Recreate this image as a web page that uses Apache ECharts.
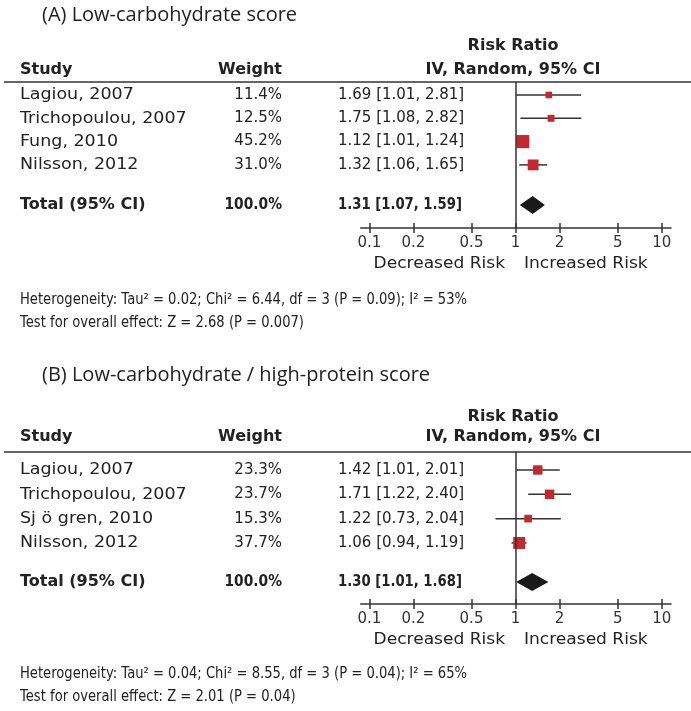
<!DOCTYPE html>
<html><head><meta charset="utf-8">
<script src="https://cdn.jsdelivr.net/npm/echarts@6/dist/echarts.min.js"></script>
<style>html,body{margin:0;padding:0;background:#fff}#c{width:691px;height:711px}</style>
</head><body><div id="c"></div>
<script>
// ---------- data ----------
const titleA = "(A) Low-carbohydrate score";
const studiesA = ["Lagiou, 2007", "Trichopoulou, 2007", "Fung, 2010", "Nilsson, 2012"];
const weightsA = [11.4, 12.5, 45.2, 31.0];
const rrA = [1.69, 1.75, 1.12, 1.32];
const loA = [1.01, 1.08, 1.01, 1.06];
const hiA = [2.81, 2.82, 1.24, 1.65];
const totalA = [1.31, 1.07, 1.59];
const hetA = "Heterogeneity: Tau² = 0.02; Chi² = 6.44, df = 3 (P = 0.09); I² = 53%";
const testA = "Test for overall effect: Z = 2.68 (P = 0.007)";

const titleB = "(B) Low-carbohydrate / high-protein score";
const studiesB = ["Lagiou, 2007", "Trichopoulou, 2007", "Sj ö gren, 2010", "Nilsson, 2012"];
const weightsB = [23.3, 23.7, 15.3, 37.7];
const rrB = [1.42, 1.71, 1.22, 1.06];
const loB = [1.01, 1.22, 0.73, 0.94];
const hiB = [2.01, 2.40, 2.04, 1.19];
const totalB = [1.30, 1.01, 1.68];
const hetB = "Heterogeneity: Tau² = 0.04; Chi² = 8.55, df = 3 (P = 0.04); I² = 65%";
const testB = "Test for overall effect: Z = 2.01 (P = 0.04)";

const tickValues = [0.1, 0.2, 0.5, 1, 2, 5, 10];
const colHeaders = ["Study", "Weight", "Risk Ratio", "IV, Random, 95% CI"];
const sideLabels = ["Decreased Risk", "Increased Risk"];
const totalLabel = ["Total (95% CI)", "100.0%"];

// ---------- layout ----------
const FONT = "DejaVu Sans";
const TXT = "#222";
const RED = "#c3282e";
const panels = [
  { title: titleA, studies: studiesA, w: weightsA, rr: rrA, lo: loA, hi: hiA, total: totalA, het: hetA, test: testA,
    top: 82, height: 146, ymin: -0.558, ymax: 5.708, totalPos: 4.72, titleY: 15, rrY: 46, hdrY: 70, sideY: 264, hetY: 300, testY: 323 },
  { title: titleB, studies: studiesB, w: weightsB, rr: rrB, lo: loB, hi: hiB, total: totalB, het: hetB, test: testB,
    top: 452, height: 152, ymin: -0.74, ymax: 5.51, totalPos: 4.61, titleY: 375, rrY: 417, hdrY: 437, sideY: 640, hetY: 674, testY: 697 }
];
const XMIN = 0.0873, XMAX = 11.58;
const fmt2 = v => v.toFixed(2);
const ciText = (r, l, h) => fmt2(r) + " [" + fmt2(l) + ", " + fmt2(h) + "]";

const chart = echarts.init(document.getElementById('c'), null, { renderer: 'canvas' });

const grids = [], xAxes = [], yAxes = [], series = [];
panels.forEach((p, i) => {
  grids.push({ left: 360.7, right: 20, top: p.top, height: p.height, containLabel: false });
  const base = {
    type: 'log', logBase: 10, gridIndex: i, min: XMIN, max: XMAX, position: 'bottom',
    splitLine: { show: false }, minorTick: { show: false }
  };
  xAxes.push(Object.assign({}, base, {
    axisLine: { show: true, onZero: false, lineStyle: { color: '#333', width: 1.5 } },
    axisTick: { show: true, inside: false, length: 5, lineStyle: { color: '#333', width: 1.5 }, customValues: tickValues },
    axisLabel: { show: true, margin: 8, color: '#333', fontFamily: FONT, fontSize: 15,
      customValues: tickValues, formatter: v => String(+(+v).toPrecision(3)) }
  }));
  xAxes.push(Object.assign({}, base, {
    axisLine: { show: false, onZero: false },
    axisTick: { show: true, inside: true, length: 5, lineStyle: { color: '#333', width: 1.5 }, customValues: tickValues },
    axisLabel: { show: false }
  }));
  yAxes.push({ type: 'value', gridIndex: i, inverse: true, min: p.ymin, max: p.ymax, show: false });

  const studyData = p.studies.map((s, k) => [k, p.rr[k], p.lo[k], p.hi[k], p.w[k]]);
  series.push({
    type: 'custom', xAxisIndex: 2 * i, yAxisIndex: i, clip: false,
    encode: { x: [1, 2, 3], y: 0 },
    data: studyData,
    renderItem: (params, api) => {
      const y = api.value(0);
      const pr = api.coord([api.value(1), y]);
      const pl = api.coord([api.value(2), y]);
      const ph = api.coord([api.value(3), y]);
      const side = 1.95 * Math.sqrt(api.value(4));
      return { type: 'group', children: [
        { type: 'line', shape: { x1: pl[0], y1: pl[1], x2: ph[0], y2: ph[1] }, style: { stroke: '#333', lineWidth: 1.5 } },
        { type: 'rect', shape: { x: pr[0] - side / 2, y: pr[1] - side / 2, width: side, height: side }, style: { fill: RED } }
      ]};
    },
    markLine: { silent: true, symbol: 'none', label: { show: false },
      lineStyle: { color: '#333', width: 1.5, type: 'solid' }, data: [{ xAxis: 1 }] },
    z: 3
  });
  series.push({
    type: 'custom', xAxisIndex: 2 * i, yAxisIndex: i, clip: false,
    encode: { x: [1, 2, 3], y: 0 },
    data: [[p.totalPos, p.total[0], p.total[1], p.total[2]]],
    renderItem: (params, api) => {
      const y = api.value(0);
      const pr = api.coord([api.value(1), y]);
      const pl = api.coord([api.value(2), y]);
      const ph = api.coord([api.value(3), y]);
      const hh = 9;
      return { type: 'polygon', shape: { points: [[pl[0], pl[1]], [pr[0], pr[1] - hh], [ph[0], ph[1]], [pr[0], pr[1] + hh]] },
        style: { fill: '#1a1a1a' } };
    },
    z: 4
  });
});

chart.setOption({
  animation: false,
  backgroundColor: '#fff',
  grid: grids, xAxis: xAxes, yAxis: yAxes, series: series
});

// ---------- texts ----------
const g = [];
const txt = (x, y, text, opt, sx) => g.push({ type: 'text', x: x, y: y, scaleX: sx || 1, silent: true,
  style: Object.assign({ text: text, fill: TXT, fontFamily: FONT, fontSize: 15, textVerticalAlign: 'middle', verticalAlign: 'middle', textAlign: 'left', align: 'left' }, opt || {}) });
const RIGHT = { textAlign: 'right', align: 'right' };
const CENTER = { textAlign: 'center', align: 'center' };
const HB = { fontWeight: 'bold', fontSize: 16 };

panels.forEach((p, i) => {
  const rowY = k => chart.convertToPixel({ gridIndex: i }, [1, k])[1];
  txt(42, p.titleY, p.title, { fontFamily: 'Open Sans', fontSize: 20, fill: '#222' });
  txt(513, p.rrY, colHeaders[2], Object.assign({}, HB, CENTER));
  txt(20, p.hdrY, colHeaders[0], HB);
  txt(282, p.hdrY, colHeaders[1], Object.assign({}, HB, RIGHT));
  txt(513, p.hdrY, colHeaders[3], Object.assign({}, HB, CENTER));
  g.push({ type: 'line', silent: true, shape: { x1: 4, y1: p.top, x2: 691, y2: p.top }, style: { stroke: '#333', lineWidth: 1.5 } });
  p.studies.forEach((s, k) => {
    const y = rowY(k);
    txt(20, y, s, { fontSize: 16.5 }, 1.06);
    txt(282, y, p.w[k].toFixed(1) + "%", RIGHT);
    txt(338, y, ciText(p.rr[k], p.lo[k], p.hi[k]));
  });
  const ty = rowY(p.totalPos);
  txt(20, ty, totalLabel[0], HB);
  txt(282, ty, totalLabel[1], Object.assign({ fontWeight: 'bold', fontSize: 15 }, RIGHT), 0.92);
  txt(338, ty, ciText(p.total[0], p.total[1], p.total[2]), { fontWeight: 'bold', fontSize: 15 }, 0.88);
  txt(505, p.sideY, sideLabels[0], Object.assign({ fontSize: 16 }, RIGHT), 1.065);
  txt(524, p.sideY, sideLabels[1], { fontSize: 16 }, 1.065);
  txt(20, p.hetY, p.het, { fontSize: 15 }, 0.875);
  txt(20, p.testY, p.test, { fontSize: 15 }, 0.875);
});
chart.setOption({ graphic: g });
</script>
</body></html>
